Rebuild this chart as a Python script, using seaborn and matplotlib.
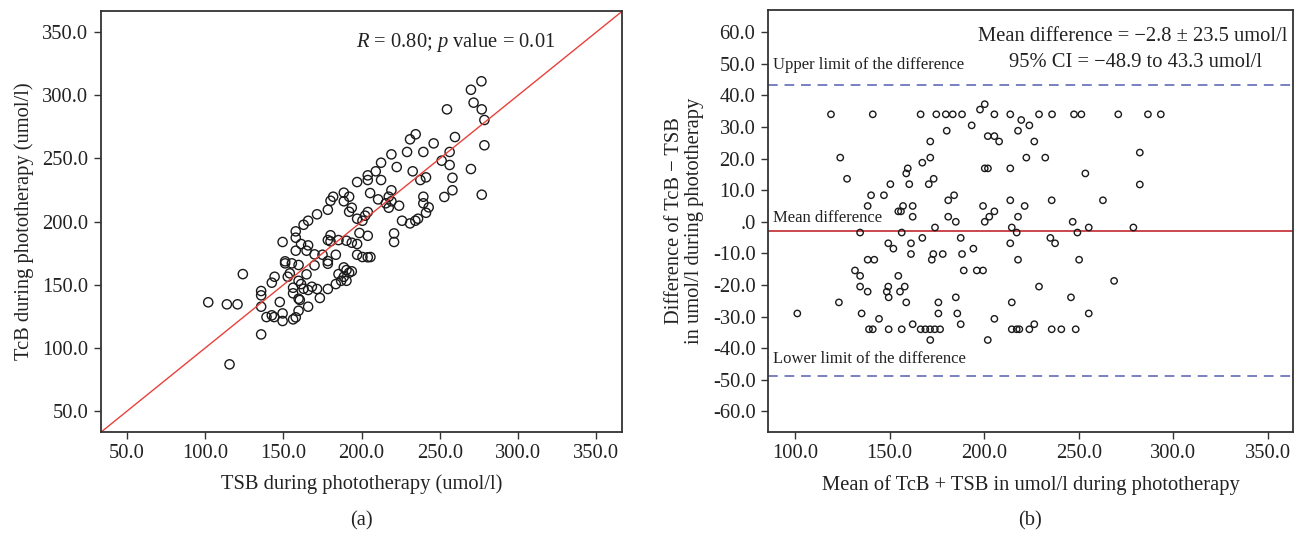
import matplotlib
matplotlib.use("Agg")
import matplotlib.pyplot as plt
import seaborn as sns
import pandas as pd

# ---- panel (a): TSB vs TcB during phototherapy (umol/l) ----
tsb = [102.0, 113.9, 120.7, 124.1, 115.6, 135.8, 135.8, 135.8, 135.8, 139.2,
       142.6, 144.1, 142.6, 144.4, 147.7, 149.5, 149.5, 149.5, 151.1, 151.1,
       152.8, 154.1, 155.4, 156.2, 156.2, 156.2, 157.9, 157.9, 157.9, 157.9,
       159.7, 159.7, 160.5, 159.7, 159.7, 161.3, 161.3, 162.9, 162.9, 164.8,
       164.8, 165.8, 165.8, 165.8, 165.8,
       276.5, 269.8, 271.5, 276.7, 278.4, 254.5, 259.6, 278.4, 234.5, 230.9,
       246.0, 229.0, 239.4, 256.2, 219.0, 251.1, 256.2, 269.8, 212.4, 222.4,
       209.0, 232.6, 203.9, 203.9, 212.4, 241.1, 237.5, 258.0, 197.1, 219.0,
       258.0, 205.4, 276.7, 252.8, 239.4, 188.6, 192.0, 181.8, 180.1, 188.6,
       210.5, 217.3, 219.0, 215.4, 239.4, 223.9, 217.3, 242.8, 178.4, 193.7,
       192.0, 241.1, 203.9, 202.2, 171.5, 197.1, 200.5, 225.8, 230.9, 234.3,
       236.0, 198.6, 203.9, 220.7, 220.7, 180.1, 178.4, 180.1, 185.2, 190.3,
       193.7, 197.1, 169.9, 175.0, 183.5, 197.1, 200.5, 203.9, 205.6, 178.4,
       178.4, 169.9, 188.6, 190.3, 193.7, 192.0, 185.2, 188.6, 190.3, 186.9,
       183.5, 178.4, 171.5, 168.2, 173.3]
tcb = [136.2, 134.6, 134.6, 158.5, 87.1, 110.8, 132.7, 141.7, 145.1, 124.5,
       125.9, 124.5, 151.7, 156.4, 136.4, 127.4, 121.4, 183.9, 168.6, 167.0,
       156.4, 159.1, 167.0, 147.7, 143.3, 122.7, 124.3, 177.0, 187.3, 192.3,
       129.5, 139.0, 138.0, 153.2, 165.7, 182.3, 150.6, 197.5, 146.9, 177.0,
       158.3, 200.7, 132.7, 145.9, 181.2,
       311.0, 304.3, 294.1, 288.8, 280.4, 288.8, 266.9, 260.4, 269.1, 265.1,
       261.9, 255.1, 255.1, 255.1, 253.2, 248.2, 244.8, 241.6, 246.6, 243.2,
       239.8, 239.8, 236.6, 232.9, 232.9, 235.0, 232.9, 234.7, 231.3, 224.8,
       224.8, 222.6, 221.3, 219.5, 219.7, 222.9, 219.7, 219.7, 216.5, 216.1,
       217.6, 219.7, 216.1, 214.5, 214.5, 212.6, 211.0, 211.3, 209.4, 211.0,
       207.8, 207.0, 207.6, 204.7, 205.8, 202.3, 200.7, 200.7, 198.6, 200.7,
       202.3, 191.0, 188.8, 190.7, 183.9, 189.2, 185.4, 184.4, 185.4, 184.9,
       183.3, 182.3, 174.1, 173.8, 173.8, 173.8, 172.0, 171.8, 172.0, 168.8,
       166.7, 165.4, 163.8, 161.7, 160.7, 159.6, 158.5, 156.4, 153.2, 153.2,
       150.6, 146.7, 146.7, 148.5, 139.6]
corr_text = r"$R$ = 0.80; $p$ value = 0.01"

# ---- panel (b): Bland-Altman ----
ba_mean = [119.0, 141.1, 166.4, 174.7, 179.7, 180.2, 171.5, 123.9, 171.5, 167.3,
           159.6, 158.8, 127.5, 173.3, 170.7, 150.4, 160.4, 140.2, 147.0, 181.0,
           138.4, 157.1, 162.2, 154.6, 156.0, 162.2, 181.0, 174.0, 134.4, 156.4,
           167.3, 149.3, 152.0, 161.3, 161.3, 173.1, 172.3, 178.1, 138.4, 141.9,
           131.7, 134.4, 154.6, 134.4, 138.4, 149.3, 148.5, 149.5, 155.5, 158.0,
           158.8, 123.2, 175.8, 101.2, 135.2, 175.8, 144.4, 139.1, 141.1, 149.5,
           156.4, 162.2, 166.4, 168.9, 171.4, 173.9, 176.7, 171.5,
           183.4, 188.3, 197.8, 200.3, 205.4, 213.8, 219.6, 223.9, 229.0, 235.9,
           247.5, 251.4, 270.9, 193.4, 217.9, 201.9, 205.4, 207.9, 226.5, 222.3,
           232.3, 200.3, 202.0, 213.8, 253.5, 184.1, 199.4, 213.8, 221.4, 235.7,
           262.8, 185.0, 200.3, 202.7, 205.4, 217.9, 246.8, 214.6, 217.2, 249.3,
           255.3, 187.6, 235.0, 237.5, 213.8, 194.3, 188.3, 217.9, 250.2, 189.2,
           196.1, 199.4, 268.7, 229.0, 185.0, 214.6, 245.9, 185.8, 255.3, 205.4,
           187.6, 226.5, 214.6, 217.2, 218.6, 223.9, 235.7, 240.8, 248.4, 201.9,
           286.6, 293.4, 282.3, 282.3, 278.9]
ba_diff = [34.0, 34.0, 34.0, 34.0, 34.0, 28.8, 25.4, 20.3, 20.3, 18.7,
           16.9, 15.3, 13.6, 13.6, 11.9, 11.9, 11.9, 8.4, 8.4, 6.8,
           5.0, 5.0, 5.0, 3.3, 3.3, 1.6, 1.6, -1.8, -3.4, -3.4,
           -5.1, -6.8, -8.5, -6.8, -10.2, -10.2, -12.0, -10.2, -12.0, -12.0,
           -15.4, -17.1, -17.1, -20.5, -22.1, -20.5, -22.1, -23.9, -22.1, -20.5,
           -25.5, -25.5, -25.5, -29.0, -29.0, -29.0, -30.7, -34.0, -34.0, -34.0,
           -34.0, -32.4, -34.0, -34.0, -34.0, -34.0, -34.0, -37.4,
           34.0, 34.0, 35.5, 37.2, 34.0, 34.0, 32.2, 30.5, 34.0, 34.0,
           34.0, 34.0, 34.0, 30.5, 28.8, 27.1, 27.1, 25.4, 25.4, 20.3,
           20.3, 16.9, 16.9, 16.9, 15.3, 8.4, 5.0, 6.8, 5.0, 6.8,
           6.8, 0.0, 0.0, 1.6, 3.3, 1.6, 0.0, -1.8, -3.4, -3.4,
           -1.8, -5.1, -5.1, -6.8, -6.8, -8.5, -10.2, -12.0, -12.0, -15.4,
           -15.4, -15.4, -18.7, -20.5, -23.9, -25.5, -23.9, -29.0, -29.0, -30.7,
           -32.4, -32.4, -34.0, -34.0, -34.0, -34.0, -34.0, -34.0, -34.0, -37.4,
           34.0, 34.0, 21.9, 11.8, -1.8]
mean_diff = -2.8
upper_limit = 43.3
lower_limit = -48.9
ba_text1 = "Mean difference = \u22122.8 \u00b1 23.5 umol/l"
ba_text2 = "95% CI = \u221248.9 to 43.3 umol/l"

a_ticks = [50, 100, 150, 200, 250, 300, 350]
a_ticklabels = ["50.0", "100.0", "150.0", "200.0", "250.0", "300.0", "350.0"]
b_xticks = [100, 150, 200, 250, 300, 350]
b_xticklabels = ["100.0", "150.0", "200.0", "250.0", "300.0", "350.0"]
b_yticks = [60, 50, 40, 30, 20, 10, 0, -10, -20, -30, -40, -50, -60]
b_yticklabels = ["60.0", "50.0", "40.0", "30.0", "20.0", "10.0", ".0",
                 "-10.0", "-20.0", "-30.0", "-40.0", "-50.0", "-60.0"]

sns.set_style("ticks")
plt.rcParams['font.family'] = ['Liberation Serif', 'DejaVu Serif']
plt.rcParams['mathtext.fontset'] = 'custom'
plt.rcParams['mathtext.rm'] = 'Liberation Serif'
plt.rcParams['mathtext.it'] = 'Liberation Serif:italic'

FS = 14.8
TXT = '#222222'
SPINE = '#333333'

fig = plt.figure(figsize=(13.02, 5.4), dpi=100)
ax1 = fig.add_axes([101 / 1302, 1 - 432 / 540, 521 / 1302, 421 / 540])
ax2 = fig.add_axes([768 / 1302, 1 - 432 / 540, 525 / 1302, 422 / 540])

dfa = pd.DataFrame({"TSB": tsb, "TcB": tcb})
sns.scatterplot(data=dfa, x="TSB", y="TcB", ax=ax1, s=44, facecolor='none',
                edgecolor='#1a1a1a', linewidth=1.0)
ax1.set_xlim(33.5, 366.3)
ax1.set_ylim(33.6, 366.6)
ax1.axline((100, 100), slope=1, color='#e8413a', lw=1.0, zorder=1)
ax1.set_xticks(a_ticks)
ax1.set_xticklabels(a_ticklabels)
ax1.set_yticks(a_ticks)
ax1.set_yticklabels(a_ticklabels)
ax1.set_xlabel("TSB during phototherapy (umol/l)", fontsize=FS, color=TXT, labelpad=8)
ax1.set_ylabel("TcB during phototherapy (umol/l)", fontsize=FS, color=TXT, labelpad=6)
ax1.text(0.681, 0.926, corr_text, transform=ax1.transAxes, ha='center', va='center',
         fontsize=FS, color=TXT)

dfb = pd.DataFrame({"mean": ba_mean, "diff": ba_diff})
sns.scatterplot(data=dfb, x="mean", y="diff", ax=ax2, s=21, facecolor='none',
                edgecolor='#1a1a1a', linewidth=1.0, zorder=3)
ax2.set_xlim(85.7, 363.3)
ax2.set_ylim(-66.5, 67.0)
ax2.axhline(mean_diff, color='#c1272d', lw=1.2, zorder=2)
ax2.axhline(upper_limit, color='#7880c2', lw=1.4, ls=(0, (5, 3.5)), zorder=2)
ax2.axhline(lower_limit, color='#7880c2', lw=1.4, ls=(0, (5, 3.5)), zorder=2)
ax2.set_xticks(b_xticks)
ax2.set_xticklabels(b_xticklabels)
ax2.set_yticks(b_yticks)
ax2.set_yticklabels(b_yticklabels)
ax2.set_xlabel("Mean of TcB + TSB in umol/l during phototherapy", fontsize=FS,
               color=TXT, labelpad=8)
ax2.set_ylabel("Difference of TcB \u2212 TSB\nin umol/l during phototherapy",
               fontsize=FS, color=TXT, labelpad=6, linespacing=1.1)
ax2.text(0.990, 0.938, ba_text1, transform=ax2.transAxes, ha='right', va='center',
         fontsize=FS, color=TXT)
ax2.text(0.941, 0.876, ba_text2, transform=ax2.transAxes, ha='right', va='center',
         fontsize=FS, color=TXT)
ax2.text(0.009, 0.870, "Upper limit of the difference", transform=ax2.transAxes,
         ha='left', va='center', fontsize=12, color=TXT)
ax2.text(0.009, 0.508, "Mean difference", transform=ax2.transAxes,
         ha='left', va='center', fontsize=12, color=TXT)
ax2.text(0.009, 0.173, "Lower limit of the difference", transform=ax2.transAxes,
         ha='left', va='center', fontsize=12, color=TXT)

for ax in (ax1, ax2):
    ax.tick_params(direction='out', length=5, width=1.0, color=SPINE,
                   labelsize=FS, labelcolor=TXT, top=False, right=False, pad=4)
    for sp in ax.spines.values():
        sp.set_visible(True)
        sp.set_color(SPINE)
        sp.set_linewidth(1.3)

fig.text(361.5 / 1302, 1 - 521 / 540, "(a)", ha='center', va='center', fontsize=FS, color=TXT)
fig.text(1030 / 1302, 1 - 521 / 540, "(b)", ha='center', va='center', fontsize=FS, color=TXT)

fig.savefig("out.png", dpi=100, facecolor='white')
